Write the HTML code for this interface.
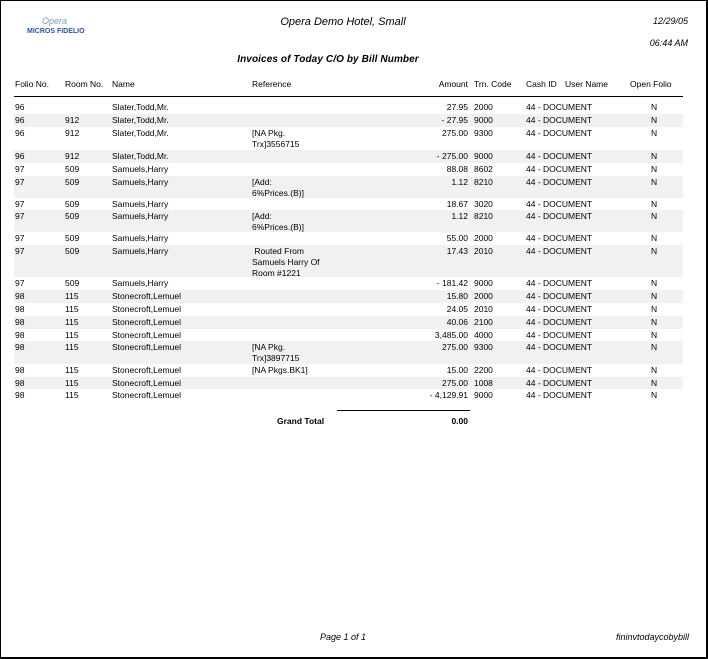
<!DOCTYPE html>
<html><head><style>
*{margin:0;padding:0}
body{width:708px;height:659px;background:#fff;position:relative;overflow:hidden;font-family:"Liberation Sans",Arial,sans-serif;font-size:8.5px;color:#000}
#frame{position:absolute;left:0;top:0;width:705px;height:656px;border:1px solid #000;border-right:2px solid #000;border-bottom:2px solid #000;box-sizing:content-box}
.a{position:absolute;white-space:nowrap}
.row{position:absolute;left:14px;width:669px}
.sh{background:#f1f1f1}
.c{position:absolute;top:1px;line-height:11px;white-space:nowrap}
.f{left:1px}.r{left:51px}.n{left:98px}.ref{left:238px}.am{right:215px;text-align:right}.t{left:460px}.ci{left:512px}.on{left:637px}
.it{font-style:italic}
</style></head><body>
<div id="frame"></div>
<div class="a" style="left:42px;top:16px;color:#7a9cc8;font-size:9px;font-style:italic">Opera</div>
<div class="a" style="left:27px;top:28px;color:#2a55a0;font-size:7px;font-weight:bold">MICROS FIDELIO</div>
<div class="a it" style="left:0;width:686px;text-align:center;top:16px;font-size:11px">Opera Demo Hotel, Small</div>
<div class="a it" style="right:20px;top:16px;font-size:9px">12/29/05</div>
<div class="a it" style="right:20px;top:38px;font-size:9px">06:44 AM</div>
<div class="a it" style="left:0;width:656px;text-align:center;top:54px;font-size:10px;font-weight:bold;letter-spacing:0.1px">Invoices of Today C/O by Bill Number</div>
<div class="row" style="top:78px;height:12px">
<span class="c f">Folio No.</span><span class="c r">Room No.</span><span class="c n">Name</span><span class="c ref">Reference</span><span class="c am">Amount</span><span class="c t">Trn. Code</span><span class="c ci">Cash ID</span><span class="c" style="left:551px">User Name</span><span class="c" style="left:616px">Open Folio</span></div>
<div class="a" style="left:14px;top:96px;width:669px;height:1px;background:#000"></div>

<div class="row" style="top:101px;height:13px"><span class="c f">96</span><span class="c n">Slater,Todd,Mr.</span><span class="c am">27.95</span><span class="c t">2000</span><span class="c ci">44 - DOCUMENT</span><span class="c on">N</span></div>
<div class="row sh" style="top:114px;height:13px"><span class="c f">96</span><span class="c r">912</span><span class="c n">Slater,Todd,Mr.</span><span class="c am">- 27.95</span><span class="c t">9000</span><span class="c ci">44 - DOCUMENT</span><span class="c on">N</span></div>
<div class="row" style="top:127px;height:23px"><span class="c f">96</span><span class="c r">912</span><span class="c n">Slater,Todd,Mr.</span><span class="c ref">[NA Pkg.<br>Trx]3556715</span><span class="c am">275.00</span><span class="c t">9300</span><span class="c ci">44 - DOCUMENT</span><span class="c on">N</span></div>
<div class="row sh" style="top:150px;height:13px"><span class="c f">96</span><span class="c r">912</span><span class="c n">Slater,Todd,Mr.</span><span class="c am">- 275.00</span><span class="c t">9000</span><span class="c ci">44 - DOCUMENT</span><span class="c on">N</span></div>
<div class="row" style="top:163px;height:13px"><span class="c f">97</span><span class="c r">509</span><span class="c n">Samuels,Harry</span><span class="c am">88.08</span><span class="c t">8602</span><span class="c ci">44 - DOCUMENT</span><span class="c on">N</span></div>
<div class="row sh" style="top:176px;height:22px"><span class="c f">97</span><span class="c r">509</span><span class="c n">Samuels,Harry</span><span class="c ref">[Add:<br>6%Prices.(B)]</span><span class="c am">1.12</span><span class="c t">8210</span><span class="c ci">44 - DOCUMENT</span><span class="c on">N</span></div>
<div class="row" style="top:198px;height:12px"><span class="c f">97</span><span class="c r">509</span><span class="c n">Samuels,Harry</span><span class="c am">18.67</span><span class="c t">3020</span><span class="c ci">44 - DOCUMENT</span><span class="c on">N</span></div>
<div class="row sh" style="top:210px;height:22px"><span class="c f">97</span><span class="c r">509</span><span class="c n">Samuels,Harry</span><span class="c ref">[Add:<br>6%Prices.(B)]</span><span class="c am">1.12</span><span class="c t">8210</span><span class="c ci">44 - DOCUMENT</span><span class="c on">N</span></div>
<div class="row" style="top:232px;height:13px"><span class="c f">97</span><span class="c r">509</span><span class="c n">Samuels,Harry</span><span class="c am">55.00</span><span class="c t">2000</span><span class="c ci">44 - DOCUMENT</span><span class="c on">N</span></div>
<div class="row sh" style="top:245px;height:32px"><span class="c f">97</span><span class="c r">509</span><span class="c n">Samuels,Harry</span><span class="c ref">&nbsp;Routed From<br>Samuels Harry Of<br>Room #1221</span><span class="c am">17.43</span><span class="c t">2010</span><span class="c ci">44 - DOCUMENT</span><span class="c on">N</span></div>
<div class="row" style="top:277px;height:13px"><span class="c f">97</span><span class="c r">509</span><span class="c n">Samuels,Harry</span><span class="c am">- 181.42</span><span class="c t">9000</span><span class="c ci">44 - DOCUMENT</span><span class="c on">N</span></div>
<div class="row sh" style="top:290px;height:13px"><span class="c f">98</span><span class="c r">115</span><span class="c n">Stonecroft,Lemuel</span><span class="c am">15.80</span><span class="c t">2000</span><span class="c ci">44 - DOCUMENT</span><span class="c on">N</span></div>
<div class="row" style="top:303px;height:13px"><span class="c f">98</span><span class="c r">115</span><span class="c n">Stonecroft,Lemuel</span><span class="c am">24.05</span><span class="c t">2010</span><span class="c ci">44 - DOCUMENT</span><span class="c on">N</span></div>
<div class="row sh" style="top:316px;height:13px"><span class="c f">98</span><span class="c r">115</span><span class="c n">Stonecroft,Lemuel</span><span class="c am">40.06</span><span class="c t">2100</span><span class="c ci">44 - DOCUMENT</span><span class="c on">N</span></div>
<div class="row" style="top:329px;height:12px"><span class="c f">98</span><span class="c r">115</span><span class="c n">Stonecroft,Lemuel</span><span class="c am">3,485.00</span><span class="c t">4000</span><span class="c ci">44 - DOCUMENT</span><span class="c on">N</span></div>
<div class="row sh" style="top:341px;height:23px"><span class="c f">98</span><span class="c r">115</span><span class="c n">Stonecroft,Lemuel</span><span class="c ref">[NA Pkg.<br>Trx]3897715</span><span class="c am">275.00</span><span class="c t">9300</span><span class="c ci">44 - DOCUMENT</span><span class="c on">N</span></div>
<div class="row" style="top:364px;height:13px"><span class="c f">98</span><span class="c r">115</span><span class="c n">Stonecroft,Lemuel</span><span class="c ref">[NA Pkgs.BK1]</span><span class="c am">15.00</span><span class="c t">2200</span><span class="c ci">44 - DOCUMENT</span><span class="c on">N</span></div>
<div class="row sh" style="top:377px;height:12px"><span class="c f">98</span><span class="c r">115</span><span class="c n">Stonecroft,Lemuel</span><span class="c am">275.00</span><span class="c t">1008</span><span class="c ci">44 - DOCUMENT</span><span class="c on">N</span></div>
<div class="row" style="top:389px;height:13px"><span class="c f">98</span><span class="c r">115</span><span class="c n">Stonecroft,Lemuel</span><span class="c am">- 4,129.91</span><span class="c t">9000</span><span class="c ci">44 - DOCUMENT</span><span class="c on">N</span></div>

<div class="a" style="left:337px;top:410px;width:133px;height:1px;background:#000"></div>
<div class="a" style="left:277px;top:416px;font-weight:bold">Grand Total</div>
<div class="a" style="right:240px;top:416px;font-weight:bold">0.00</div>
<div class="a it" style="left:0;width:686px;text-align:center;top:632px;font-size:9px">Page 1 of 1</div>
<div class="a it" style="right:19px;top:632px;font-size:9px">fininvtodaycobybill</div>
</body></html>
